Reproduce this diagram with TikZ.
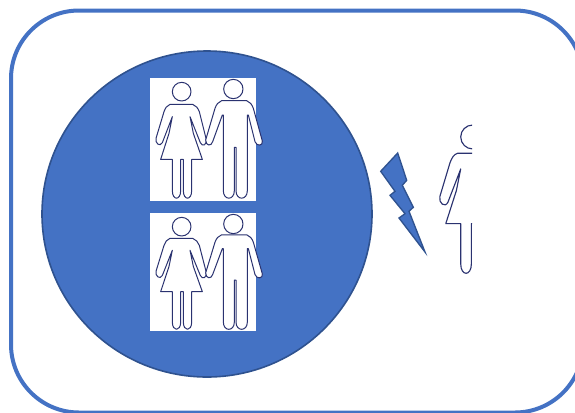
\documentclass[tikz,border=0pt]{standalone}
\definecolor{blueF}{HTML}{4472C4}
\definecolor{blueD}{HTML}{2F528F}
\definecolor{navy}{HTML}{2A3270}
\newcommand{\headW}{(125,65) circle (28)}
\newcommand{\bodyW}{(90,103) .. controls (80,106) and (76,115) .. (72,125) -- (48,205) .. controls (45,220) and (60,232) .. (67,218) -- (97,140) -- (87,190) -- (62,268) -- (97,268) -- (97,362) .. controls (97,392) and (122,392) .. (122,362) -- (122,268) -- (130,268) -- (130,362) .. controls (130,392) and (155,392) .. (155,362) -- (155,268) -- (187,268) -- (160,190) -- (150,140) -- (181,218) .. controls (187,232) and (203,225) .. (198,205) -- (178,125) .. controls (174,115) and (168,106) .. (158,103) -- cycle}
\newcommand{\headM}{(280,57) circle (29)}
\newcommand{\bodyM}{(245,92) .. controls (235,95) and (229,104) .. (225,115) -- (197,210) .. controls (197,228) and (214,230) .. (218,215) -- (247,135) -- (250,135) -- (250,362) .. controls (250,392) and (283,392) .. (283,362) -- (283,232) -- (288,232) -- (288,362) .. controls (288,392) and (322,392) .. (322,362) -- (322,135) -- (325,135) -- (345,215) .. controls (350,230) and (370,228) .. (367,213) -- (340,115) .. controls (336,104) and (330,95) .. (320,92) -- cycle}
\tikzset{
  figline/.style={draw=navy,line width=0.75pt,fill=white,line join=round},
  photo/.style={fill=white,draw=none},
}
\begin{document}
\begin{tikzpicture}[x=0.75pt,y=-0.75pt]
\useasboundingbox (0,0) rectangle (575,412);
\clip (0,0) rectangle (575,412);
\fill[white] (0,0) rectangle (575,412);
% frame
\draw[blueF,line width=3pt,rounded corners=51pt] (11,10.5) rectangle (583,412.5);
% disc
\draw[fill=blueF,draw=blueD,line width=1.2pt] (207,214) ellipse [x radius=165,y radius=163];
% white panels
\fill[photo] (150,78) rectangle (255.5,201);
\fill[photo] (150,213) rectangle (255.5,331);
% upper couple
\begin{scope}[shift={(140,70)},x=0.25pt,y=-0.25pt]
  \path[figline] \bodyW;
  \path[figline] \headW;
  \path[figline] \bodyM;
  \path[figline] \headM;
\end{scope}
% lower couple
\begin{scope}[shift={(140,205)},x=0.25pt,y=-0.2425pt]
  \path[figline] \bodyW;
  \path[figline] \bodyM;
\end{scope}
\begin{scope}[shift={(140,205)},x=0.25pt,y=-0.25pt]
  \path[figline] \headW;
  \path[figline] \headM;
\end{scope}
% bolt
\draw[fill=blueF,draw=blueD,line width=1pt,line join=miter]
  (397.7,153) -- (406.7,180.3) -- (402.3,185.3) -- (413.3,207.3) -- (409,211.3) -- (425,252)
  -- (399,218) -- (405,213.7) -- (390,195.3) -- (395,191.3) -- (380.7,171.3) -- cycle;
% lone figure cut at its middle
\begin{scope}
  \clip (430,100) rectangle (472,290);
  \begin{scope}[shift={(370,115)},x=0.25pt,y=-0.25pt]
    \begin{scope}[shift={(148,-17.3)},x=0.32pt,y=-0.32pt]
      \path[figline,line width=0.85pt] \bodyW;
      \path[figline,line width=0.85pt] \headW;
    \end{scope}
  \end{scope}
\end{scope}
\end{tikzpicture}
\end{document}
